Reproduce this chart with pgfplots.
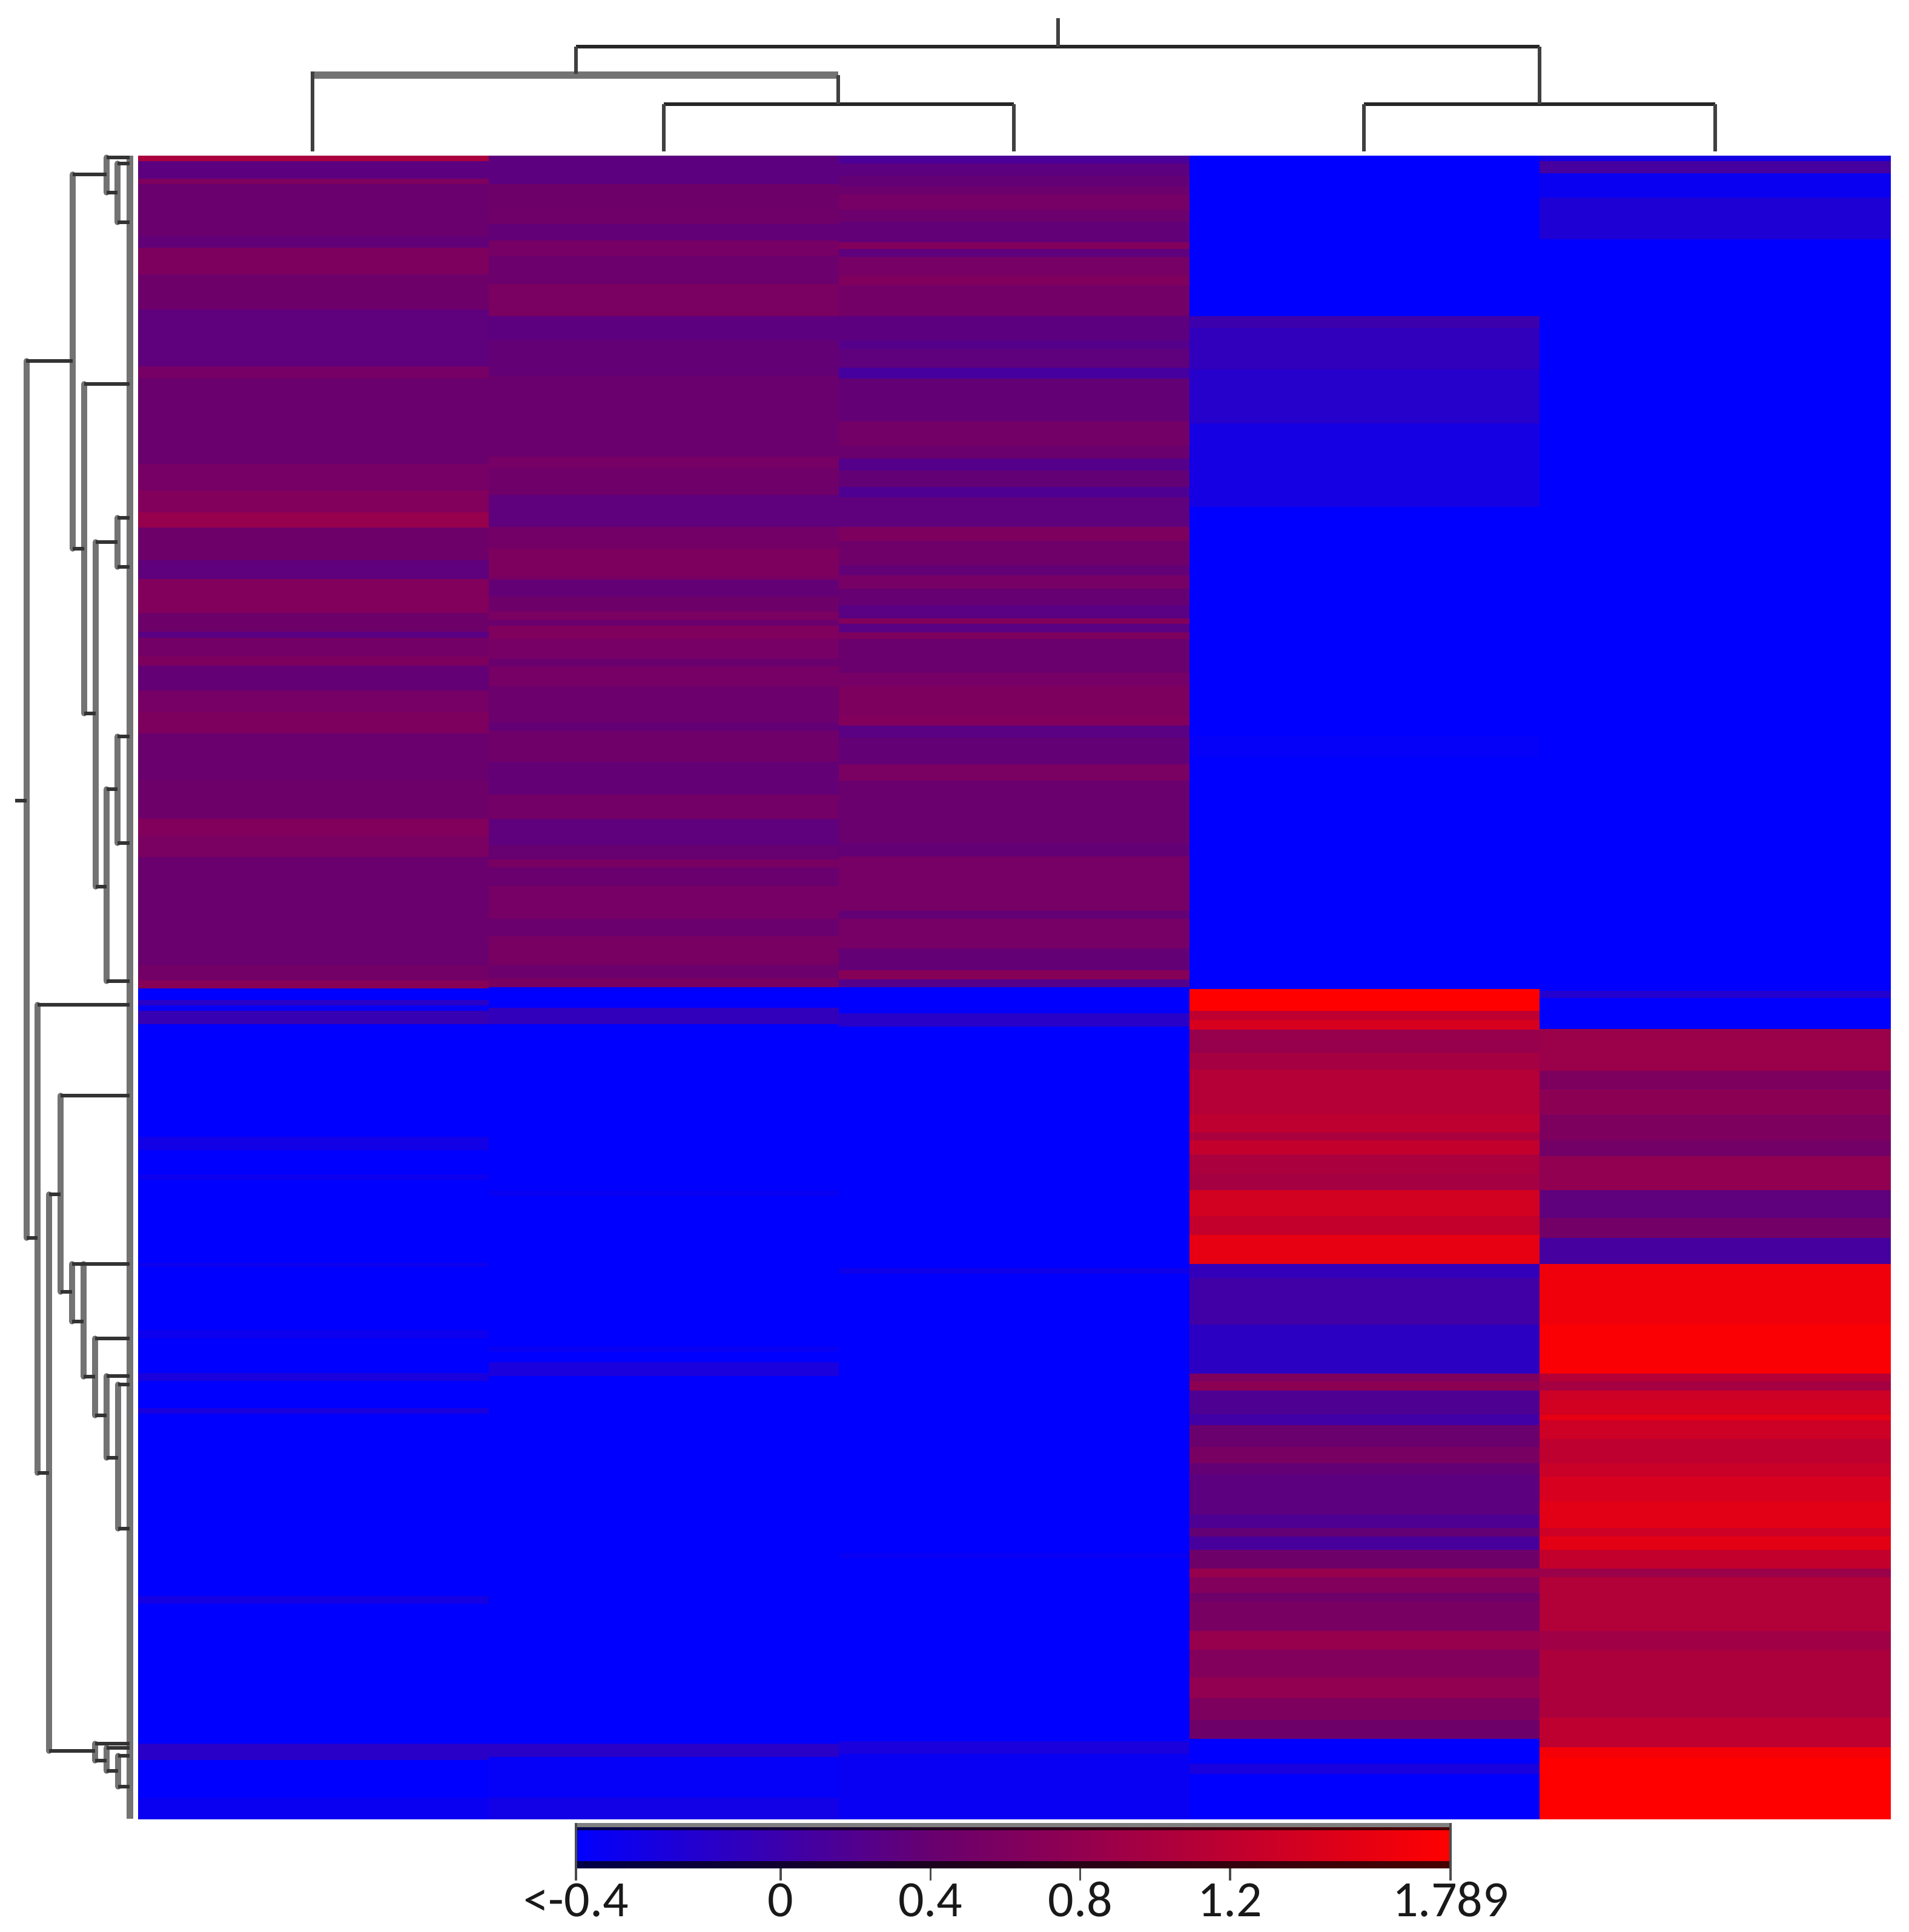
\documentclass[border=0pt]{standalone}
\usepackage{fontspec}
\setmainfont{Carlito}
\usepackage{pgfplots}
\usepackage{pgfplotstable}
\pgfplotsset{compat=1.18}
\definecolor{purp}{RGB}{105,0,110}

% y = top of band (reference pixel row), v = value on the colour scale
\pgfplotstableread{
y v
257 1.01
266 .30
295 .60
304 .42
390 .35
409 .60
453 .46
511 .32
605 .53
625 .42
766 .53
810 .64
846 .83
871 .46
925 .32
956 .64
1012 .46
1043 .28
1053 .51
1084 .60
1099 .37
1140 .53
1176 .60
1211 .42
1288 .46
1352 .64
1380 .57
1415 .42
1594 .51
1619 .69
1632 -.55
1651 -.18
1660 -.50
1669 -.04
1691 -.55
1877 -.38
1899 -.55
1939 -.44
1948 -.55
2085 -.44
2092 -.55
2196 -.44
2210 -.55
2267 -.32
2280 -.55
2325 -.32
2334 -.55
2635 -.36
2648 -.55
2879 -.18
2906 -.55
2968 -.46
3003 0
}\colA
\pgfplotstableread{
y v
257 .30
304 .46
346 .48
370 .35
397 .53
422 .44
469 .57
522 .30
562 .37
620 .42
754 .53
772 .48
817 .32
870 .51
906 .60
950 .55
957 .37
985 .46
1010 .57
1024 .42
1033 .63
1055 .53
1088 .42
1100 .53
1133 .44
1193 .37
1207 .48
1258 .37
1312 .51
1352 .32
1396 .40
1419 .55
1432 .42
1463 .53
1517 .42
1546 .55
1593 .44
1615 .55
1630 -.55
1664 -.09
1691 -.55
1966 -.47
1975 -.55
2223 -.46
2232 -.55
2249 -.32
2272 -.55
2879 -.18
2901 -.50
2968 -.38
3003 0
}\colB
\pgfplotstableread{
y v
257 .14
270 .30
290 .37
308 .44
321 .53
346 .44
366 .35
400 .64
411 .32
424 .53
455 .63
471 .51
522 .30
562 .23
576 .32
607 .09
625 .37
696 .51
737 .42
757 .23
777 .37
804 .17
821 .32
870 .60
893 .48
933 .37
950 .53
972 .39
999 .28
1021 .64
1030 .28
1044 .60
1055 .42
1111 .53
1133 .60
1182 .64
1198 .28
1218 .37
1262 .57
1289 .42
1392 .37
1414 .53
1504 .37
1517 .53
1566 .37
1602 .69
1617 .23
1630 -.55
1673 -.18
1695 -.55
2094 -.41
2103 -.55
2564 -.47
2573 -.55
2875 -.32
2896 -.47
3003 0
}\colC
\pgfplotstableread{
y v
257 -.55
522 .00
542 -.11
610 -.20
699 -.36
837 -.55
1215 -.50
1250 -.55
1633 1.79
1669 1.19
1684 1.42
1700 .83
1738 .96
1766 1.10
1840 1.19
1870 1.01
1883 1.24
1906 1.01
1939 .96
1965 1.38
2008 1.24
2039 1.56
2087 -.09
2110 .05
2187 -.14
2268 .60
2281 .74
2296 .17
2335 .05
2353 .42
2389 .55
2416 .37
2434 .30
2501 .17
2523 .37
2537 .11
2559 .46
2590 .83
2604 .64
2630 .46
2644 .55
2693 .83
2724 .64
2769 .78
2804 .60
2840 .46
2871 -.55
2912 -.32
2929 -.55
3003 0
}\colD
\pgfplotstableread{
y v
257 -.36
266 .09
286 -.46
326 -.27
395 -.55
1636 -.23
1648 -.55
1699 .87
1768 .60
1799 .74
1840 .60
1883 .51
1909 .78
1965 .32
2011 .51
2044 .09
2087 1.65
2187 1.74
2268 1.10
2281 .96
2296 1.33
2313 1.38
2336 1.56
2345 1.33
2376 1.19
2416 1.29
2438 1.42
2479 1.51
2523 1.33
2537 1.54
2559 1.24
2590 .87
2604 1.08
2693 .92
2724 1.03
2836 1.19
2885 1.70
2903 1.79
3003 0
}\colE

\newcommand\drawbands[3]{%
  \pgfplotstablegetrowsof{#1}%
  \pgfmathtruncatemacro\lastband{\pgfplotsretval-2}%
  \pgfplotsforeachungrouped \i in {0,...,\lastband}{%
    \pgfplotstablegetelem{\i}{y}\of{#1}\edef\ya{\pgfplotsretval}%
    \pgfplotstablegetelem{\i}{v}\of{#1}\edef\va{\pgfplotsretval}%
    \pgfmathtruncatemacro\inext{\i+1}%
    \pgfplotstablegetelem{\inext}{y}\of{#1}\edef\yb{\pgfplotsretval}%
    \pgfmathsetmacro\pc{max(0,min(100,(\va+0.547)/2.336*100))}%
    \ifdim\pc pt<41.2pt
      \pgfmathsetmacro\q{min(100,\pc/41.2*100)}\edef\cc{purp!\q!blue}%
    \else
      \pgfmathsetmacro\q{min(100,(\pc-41.2)/58.8*100)}\edef\cc{red!\q!purp}%
    \fi
    \edef\tmp{\noexpand\addplot[forget plot,fill=\cc,draw=\cc,line width=0.15pt]
      coordinates {(#2,\ya)(#3,\ya)(#3,\yb)(#2,\yb)} --cycle;}%
    \tmp
  }%
}

\begin{document}
\begin{tikzpicture}
\useasboundingbox (0,0) rectangle (787.75pt,797.5pt);
\begin{axis}[
  at={(0pt,0pt)}, anchor=south west,
  scale only axis, width=787.75pt, height=797.5pt,
  xmin=0, xmax=3151, ymin=0, ymax=3190, y dir=reverse,
  hide axis, clip=false, unbounded coords=jump]
\drawbands{\colA}{228}{807}
\drawbands{\colB}{807}{1385}
\drawbands{\colC}{1385}{1964}
\drawbands{\colD}{1964}{2542}
\drawbands{\colE}{2542}{3121}
% left dendrogram: verticals
\addplot[forget plot,color=black!55,line width=2.6pt] coordinates {
 (214.5,257)(214.5,3003)};
\addplot[forget plot,color=black!55,line width=2.4pt,line cap=round] coordinates {
 (176,260)(176,318)(nan,nan)
 (194,270)(194,367)(nan,nan)
 (120,288)(120,906)(nan,nan)
 (44,596)(44,2044)(nan,nan)
 (139,634)(139,1178)(nan,nan)
 (158,895)(158,1464)(nan,nan)
 (194,855)(194,936)(nan,nan)
 (194,1216)(194,1392)(nan,nan)
 (176,1303)(176,1620)(nan,nan)
 (62,1659)(62,2432)(nan,nan)
 (81,1972)(81,2891)(nan,nan)
 (100,1809)(100,2133)(nan,nan)
 (119,2087)(119,2182)(nan,nan)
 (138,2087)(138,2273)(nan,nan)
 (157,2210)(157,2337)(nan,nan)
 (176,2272)(176,2407)(nan,nan)
 (195,2286)(195,2524)(nan,nan)
 (157,2879)(157,2907)(nan,nan)
 (176,2886)(176,2924)(nan,nan)
 (195,2899)(195,2950)};
% left dendrogram: horizontals
\addplot[forget plot,color=black!80,line width=1.3pt] coordinates {
 (176,260)(214,260)(nan,nan)
 (176,318)(194,318)(nan,nan)
 (194,270)(214,270)(nan,nan)
 (194,367)(214,367)(nan,nan)
 (120,288)(176,288)(nan,nan)
 (120,906)(139,906)(nan,nan)
 (43,596)(120,596)(nan,nan)
 (44,2044)(62,2044)(nan,nan)
 (139,634)(214,634)(nan,nan)
 (139,1178)(158,1178)(nan,nan)
 (158,895)(194,895)(nan,nan)
 (158,1464)(176,1464)(nan,nan)
 (194,855)(214,855)(nan,nan)
 (194,936)(214,936)(nan,nan)
 (194,1216)(214,1216)(nan,nan)
 (194,1392)(214,1392)(nan,nan)
 (176,1303)(194,1303)(nan,nan)
 (176,1620)(214,1620)(nan,nan)
 (25,1322)(44,1322)(nan,nan)
 (62,1659)(214,1659)(nan,nan)
 (62,2432)(81,2432)(nan,nan)
 (81,1972)(100,1972)(nan,nan)
 (100,1809)(214,1809)(nan,nan)
 (100,2133)(119,2133)(nan,nan)
 (119,2087)(214,2087)(nan,nan)
 (119,2182)(138,2182)(nan,nan)
 (138,2273)(157,2273)(nan,nan)
 (157,2210)(214,2210)(nan,nan)
 (157,2337)(176,2337)(nan,nan)
 (176,2272)(214,2272)(nan,nan)
 (176,2407)(195,2407)(nan,nan)
 (195,2286)(214,2286)(nan,nan)
 (195,2524)(214,2524)(nan,nan)
 (81,2891)(157,2891)(nan,nan)
 (157,2879)(214,2879)(nan,nan)
 (157,2907)(176,2907)(nan,nan)
 (176,2886)(214,2886)(nan,nan)
 (176,2924)(195,2924)(nan,nan)
 (195,2899)(214,2899)(nan,nan)
 (195,2950)(214,2950)};
% top dendrogram
\addplot[forget plot,color=black!55,line width=3.2pt] coordinates {(516,124)(1384,124)};
\addplot[forget plot,color=black!85,line width=1.5pt] coordinates {
 (951,77)(2542,77)(nan,nan)
 (1096,172)(1674,172)(nan,nan)
 (2252,172)(2832,172)};
\addplot[forget plot,color=black!75,line width=1.3pt] coordinates {
 (1747,30)(1747,77)(nan,nan)
 (951,77)(951,122)(nan,nan)
 (516,118)(516,250)(nan,nan)
 (1384,124)(1384,172)(nan,nan)
 (1096,172)(1096,250)(nan,nan)
 (1674,172)(1674,250)(nan,nan)
 (2542,77)(2542,172)(nan,nan)
 (2252,172)(2252,250)(nan,nan)
 (2832,172)(2832,250)};
\end{axis}
% colour scale
\begin{axis}[
  at={(237.75pt,26.25pt)}, anchor=south west,
  scale only axis, width=361pt, height=18.75pt,
  xmin=-0.547, xmax=1.789, ymin=0, ymax=75,
  axis y line=none, axis x line*=bottom, axis line style={draw=none},
  clip=false, unbounded coords=jump,
  colormap={rb}{rgb255(0cm)=(0,0,255) rgb255(4.12cm)=(105,0,110) rgb255(10cm)=(255,0,0)},
  point meta min=-0.547, point meta max=1.789,
  xtick={-0.547,0,0.4,0.8,1.2,1.789},
  xticklabels={<-0.4,0,0.4,0.8,1.2,1.789},
  tick align=outside, major tick length=5pt,
  tick style={color=black!70,line width=0.9pt},
  xticklabel style={font=\fontsize{21}{25}\selectfont,color=black!90,anchor=base,yshift=-15pt},
  tick label style={/pgf/number format/assume math mode=true}]
\addplot[forget plot,surf,shader=interp,mesh/cols=3,point meta=x] coordinates {
 (-0.547,0)(0.415,0)(1.789,0)
 (-0.547,68)(0.415,68)(1.789,68)};
\addplot[forget plot,color=black!50,line width=1.8pt] coordinates {(-0.547,71.5)(1.789,71.5)};
\addplot[forget plot,color=black,opacity=.7,line width=1.3pt] coordinates {(-0.547,65.5)(1.789,65.5)};
\addplot[forget plot,color=black,opacity=.72,line width=3pt] coordinates {(-0.547,6)(1.789,6)};
\addplot[forget plot,color=black!70,line width=0.9pt] coordinates {(-0.547,75)(-0.547,0)(nan,nan)(1.789,75)(1.789,0)};
\end{axis}
\end{tikzpicture}
\end{document}
